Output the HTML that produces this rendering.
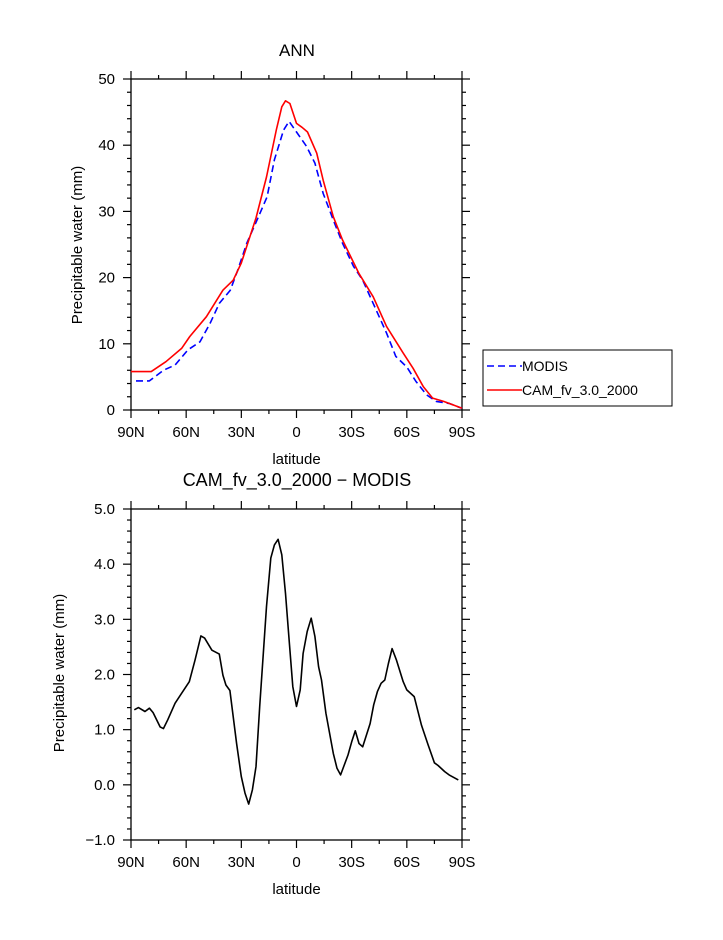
<!DOCTYPE html>
<html><head><meta charset="utf-8"><style>
body{margin:0;background:#fff;}
svg text{font-family:"Liberation Sans",sans-serif;fill:#000;}
</style></head><body>
<svg id="chart" width="723" height="935" viewBox="0 0 723 935" xmlns="http://www.w3.org/2000/svg"></svg>
<script>
// ---- data ----
const xTickLabels = ["90N","60N","30N","0","30S","60S","90S"];
const topYTicks = [0,10,20,30,40,50];
const botYTicks = ["-1.0","0.0","1.0","2.0","3.0","4.0","5.0"];
const camLat = [90,79,71,62.5,58,49,40,34.4,30,22,16.3,11,8,6,3.6,0,-3,-6,-11,-14.5,-20,-25,-34,-41.7,-49,-58,-63.4,-69,-74,-80,-83,-90];
const camVal = [5.8,5.8,7.3,9.3,11.1,14.1,18.1,19.6,22.2,29,35.2,42.3,45.8,46.7,46.3,43.3,42.7,42,38.8,34.7,29.2,25.7,20.6,17.1,12.6,8.6,6.3,3.5,1.8,1.3,1.0,0.25];
const modisLat = [87.3,80,72.4,66,59,52.5,47,42,36,32,27,21,16,12,7,4,0,-5.5,-10,-14.5,-20,-25,-31,-36,-41.7,-49,-54,-60,-65,-70.7,-76,-83,-90];
const modisVal = [4.4,4.4,6,6.8,9.1,10.3,13.1,16.1,18.1,21.1,25.2,29,32.2,37.8,42.3,43.6,42,39.8,37.3,32.7,28.7,25.2,21.7,19.6,16.1,11.6,8.1,6.5,4.3,2.3,1.3,1.0,0.25];
const diffLat = [88.2,86,82.4,80,78,74.2,72.4,70,66,62.5,58.3,55.2,52,50,46,42,40,38.4,36.2,32.6,30,28,26,24,22,20,16.3,14,12,10,8,6,4,2,0,-2,-3.6,-5.8,-8,-10,-12,-13.6,-16,-20,-22,-24,-28,-30,-32,-34,-36,-40,-42,-44,-46,-48,-50,-52,-54.4,-58,-60,-64,-68,-71.6,-75,-77,-80.6,-83,-88];
const diffVal = [1.36,1.40,1.33,1.39,1.31,1.05,1.02,1.18,1.48,1.66,1.87,2.26,2.70,2.66,2.44,2.37,1.99,1.81,1.71,0.75,0.15,-0.15,-0.35,-0.09,0.33,1.42,3.23,4.11,4.35,4.45,4.17,3.47,2.63,1.78,1.42,1.72,2.38,2.78,3.02,2.69,2.14,1.90,1.30,0.57,0.30,0.18,0.54,0.78,0.98,0.75,0.69,1.11,1.45,1.69,1.84,1.90,2.20,2.47,2.26,1.87,1.72,1.60,1.08,0.72,0.40,0.35,0.24,0.18,0.09];

const NS="http://www.w3.org/2000/svg";
const svg=document.getElementById('chart');
function mk(tag,attrs,parent){const e=document.createElementNS(NS,tag);for(const k in attrs)e.setAttribute(k,attrs[k]);(parent||svg).appendChild(e);return e;}
const L=131,R=462;
const xs=lat=>L+(90-lat)/180*(R-L);

function panel(top,bot,ymin,ymax,majorStep,minorStep,yLabels,name){
  const ys=v=>bot-(v-ymin)/(ymax-ymin)*(bot-top);
  const g=mk('g',{});
  
  
  const fr=mk('rect',{x:L,y:top,width:R-L,height:bot-top,fill:'none',stroke:'#000','stroke-width':1.3},g);
  
  
  // x ticks
  for(let lat=90;lat>=-90;lat-=15){
    const x=xs(lat),len=(lat%30===0)?8:4;
    mk('line',{x1:x,x2:x,y1:bot,y2:bot+len,stroke:'#000','stroke-width':1.2},g);
    mk('line',{x1:x,x2:x,y1:top,y2:top-len,stroke:'#000','stroke-width':1.2},g);
  }
  xTickLabels.forEach((t,i)=>{
    const tx=mk('text',{x:xs(90-30*i),y:bot+27,'text-anchor':'middle','font-size':15},g);
    tx.textContent=t;
    
    
  });
  const n=Math.round((ymax-ymin)/minorStep);
  for(let i=0;i<=n;i++){
    const v=ymin+i*minorStep,y=ys(v);
    const maj=Math.abs(v/majorStep-Math.round(v/majorStep))<1e-6,len=maj?8:4;
    mk('line',{x1:L,x2:L-len,y1:y,y2:y,stroke:'#000','stroke-width':1.2},g);
    mk('line',{x1:R,x2:R+len,y1:y,y2:y,stroke:'#000','stroke-width':1.2},g);
  }
  yLabels.forEach(t=>{
    const v=parseFloat(t);
    const tx=mk('text',{x:L-16,y:ys(v)+5,'text-anchor':'end','font-size':15},g);
    tx.textContent=String(t).replace('-','\u2212');
    
    
  });
  const xt=mk('text',{x:(L+R)/2,y:bot+54,'text-anchor':'middle','font-size':15},g);
  xt.textContent='latitude';
  
  
  return {g,ys};
}
function line(p,lats,vals,color,dash,name){
  const d=lats.map((la,i)=>(i?'L':'M')+xs(la).toFixed(1)+','+p.ys(vals[i]).toFixed(1)).join(' ');
  const a={d,fill:'none',stroke:color,'stroke-width':1.6,'stroke-linejoin':'round'};
  if(dash)a['stroke-dasharray']=dash;
  const e=mk('path',a,p.g);
  
  
}
const p1=panel(79,410,0,50,10,2,topYTicks,'top-panel');
line(p1,modisLat,modisVal,'#0000ff','7,4','modis-line');
line(p1,camLat,camVal,'#ff0000',null,'cam-line');
const p2=panel(509,840,-1,5,1,0.2,botYTicks,'bottom-panel');
line(p2,diffLat,diffVal,'#000',null,'difference-line');

function txt(s,attrs,name){const t=mk('text',attrs);t.textContent=s;
  
  return t;}
txt('ANN',{x:297,y:56,'text-anchor':'middle','font-size':17},'top-title');
txt('CAM_fv_3.0_2000 \u2212 MODIS',{x:297,y:486,'text-anchor':'middle','font-size':18},'bottom-title');
txt('Precipitable water (mm)',{x:0,y:0,'text-anchor':'middle','font-size':15,transform:'translate(82,245) rotate(-90)'},'top-y-axis-title');
txt('Precipitable water (mm)',{x:0,y:0,'text-anchor':'middle','font-size':15,transform:'translate(64,673) rotate(-90)'},'bottom-y-axis-title');
// legend
const lg=mk('g',{});


mk('rect',{x:483,y:350,width:189,height:56,fill:'none',stroke:'#000','stroke-width':1},lg);
mk('line',{x1:487,x2:522,y1:366,y2:366,stroke:'#0000ff','stroke-width':1.6,'stroke-dasharray':'7,4'},lg);
mk('line',{x1:487,x2:522,y1:390,y2:390,stroke:'#ff0000','stroke-width':1.6},lg);
const l1=mk('text',{x:522,y:371,'font-size':14},lg);l1.textContent='MODIS';


const l2=mk('text',{x:522,y:395,'font-size':14},lg);l2.textContent='CAM_fv_3.0_2000';


</script>
</body></html>
